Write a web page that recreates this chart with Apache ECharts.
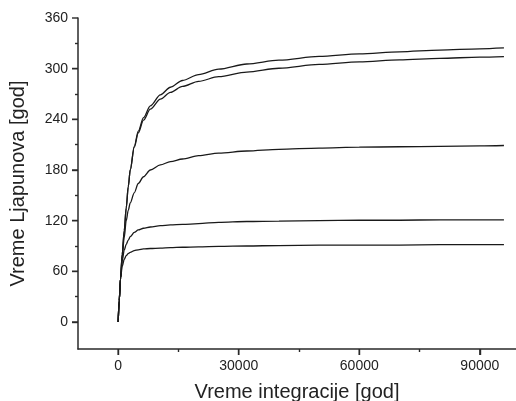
<!DOCTYPE html>
<html><head><meta charset="utf-8">
<script src="https://cdn.jsdelivr.net/npm/echarts@6/dist/echarts.min.js"></script>
<style>html,body{margin:0;padding:0;background:#fff}#c{width:516px;height:401px}</style>
</head><body><div id="c"></div>
<script>
const xValues = [0, 250, 600, 1000, 1500, 2000, 2500, 3000, 4000, 5000, 6300, 8000, 10500, 13000, 16000, 20000, 25000, 32000, 40000, 50000, 60000, 70000, 80000, 90000, 96000];
const seriesA = [0, 25, 52, 80, 108, 135, 160, 180, 208, 226, 242, 256, 269, 278, 286, 293, 299.5, 305.5, 310, 314.5, 317.5, 320, 322, 323.5, 324.5];
const seriesB = [0, 25, 52, 80, 108, 135, 160, 180, 207, 224, 239, 252, 264, 272, 279, 285, 290.5, 296, 300.5, 305, 308, 310.5, 312.3, 313.6, 314.3];
const seriesC = [0, 25, 52, 78, 100, 120, 132, 141, 153, 164, 172, 180, 186, 190, 193, 197, 200, 202.5, 204.5, 206, 207, 207.5, 208, 208.5, 209];
const seriesD = [0, 25, 52, 72, 85, 92, 97, 101, 106, 109, 111, 112.5, 114, 115, 115.5, 116.5, 118, 119, 119.5, 120, 120.5, 120.5, 121, 121, 121];
const seriesE = [0, 25, 52, 66, 74, 78.5, 81, 82.5, 84.5, 85.5, 86.5, 87, 87.5, 88, 88.5, 89, 89.5, 90, 90.5, 91, 91, 91, 91.5, 91.5, 91.5];
const xTickLabels = [0, 30000, 60000, 90000];
const xMinorTicks = [15000, 45000, 75000];
const yTickLabels = [0, 60, 120, 180, 240, 300, 360];
const yMinorTicks = [30, 90, 150, 210, 270, 330];

const X_MIN = -10000, X_MAX = 99000, Y_MIN = -32, Y_MAX = 360;
const font = 'Liberation Sans, Arial, sans-serif';
const axisCol = '#2a2a2a';
const allSeries = [seriesA, seriesB, seriesC, seriesD, seriesE];

function tickAxis(min, max, pos, values, len) {
  return {
    type: 'value', min: min, max: max, position: pos,
    axisLine: {show: false, onZero: false},
    axisTick: {show: true, customValues: values, length: len, lineStyle: {color: axisCol, width: 1.4}},
    axisLabel: {show: false}, splitLine: {show: false}
  };
}

function tickSeries(isX, values, len) {
  return {
    type: 'custom', xAxisIndex: 0, yAxisIndex: 0, silent: true, clip: false, z: 5,
    data: values.map(v => isX ? [v, Y_MIN] : [X_MIN, v]),
    renderItem: (params, api) => {
      const p = api.coord([api.value(0), api.value(1)]);
      const shape = isX ? {x1: p[0], y1: p[1], x2: p[0], y2: p[1] + len}
                        : {x1: p[0] - len, y1: p[1], x2: p[0], y2: p[1]};
      return {type: 'line', shape: shape, style: {stroke: axisCol, lineWidth: 1.4}};
    }
  };
}

const chart = echarts.init(document.getElementById('c'), null, {renderer: 'canvas'});
chart.setOption({
  animation: false,
  backgroundColor: '#fff',
  grid: {left: 78, right: 0, top: 18, bottom: 52, containLabel: false, outerBoundsMode: 'none'},
  xAxis: [{
    type: 'value', min: X_MIN, max: X_MAX, position: 'bottom',
    name: 'Vreme integracije [god]', nameLocation: 'middle', nameGap: 33,
    nameTextStyle: {fontFamily: font, fontSize: 20, color: '#222'},
    axisLine: {show: true, onZero: false, lineStyle: {color: axisCol, width: 1.5}},
    axisTick: {show: false},
    axisLabel: {customValues: xTickLabels, formatter: v => String(v), fontFamily: font, fontSize: 14, color: '#222', margin: 10},
    splitLine: {show: false}
  },
  tickAxis(X_MIN, X_MAX, 'bottom', xMinorTicks, 3),
  tickAxis(X_MIN, X_MAX, 'bottom', xTickLabels.map(v => v + 0.5), 6)],
  yAxis: [{
    type: 'value', min: Y_MIN, max: Y_MAX, position: 'left',
    name: 'Vreme Ljapunova [god]', nameLocation: 'middle', nameGap: 50, nameRotate: 90,
    nameTextStyle: {fontFamily: font, fontSize: 20, color: '#222'},
    axisLine: {show: true, onZero: false, lineStyle: {color: axisCol, width: 1.5}},
    axisTick: {show: false},
    axisLabel: {customValues: yTickLabels, formatter: v => String(v), fontFamily: font, fontSize: 14, color: '#222', margin: 10},
    splitLine: {show: false}
  },
  tickAxis(Y_MIN, Y_MAX, 'left', yMinorTicks, 3),
  tickAxis(Y_MIN, Y_MAX, 'left', yTickLabels.map(v => v + 0.001), 6)],
  series: allSeries.map(s => ({
    type: 'line', xAxisIndex: 0, yAxisIndex: 0,
    data: xValues.map((x, i) => [x, s[i]]),
    smooth: 0.3, smoothMonotone: 'x', showSymbol: false, symbol: 'none',
    lineStyle: {color: '#1a1a1a', width: 1.3}
  })).concat([tickSeries(true, xTickLabels, 6), tickSeries(false, yTickLabels, 6)])
});
</script></body></html>
